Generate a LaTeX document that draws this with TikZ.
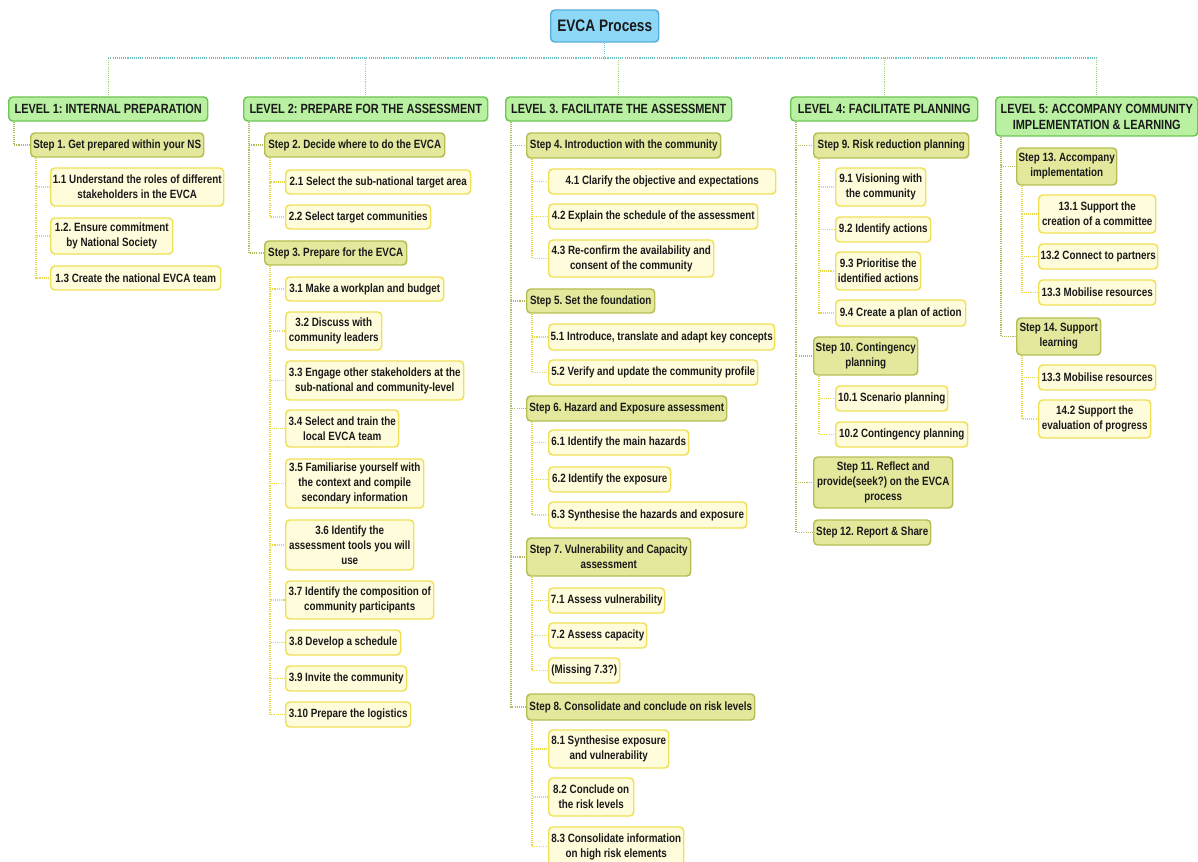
\documentclass[tikz,border=0pt]{standalone}
\usepackage{fontspec}
\setmainfont{Liberation Sans}[FakeStretch=0.82]
\frenchspacing
\definecolor{txt}{HTML}{1A1A1A}
\definecolor{titlefill}{HTML}{8DD7F7}
\definecolor{titledraw}{HTML}{55AEDD}
\definecolor{levelfill}{HTML}{B9F0A2}
\definecolor{leveldraw}{HTML}{6DC552}
\definecolor{stepfill}{HTML}{E3E89C}
\definecolor{stepdraw}{HTML}{B6BD52}
\definecolor{subfill}{HTML}{FFFCDC}
\definecolor{subdraw}{HTML}{EFE055}
\definecolor{buscol}{HTML}{6CC3C3}
\definecolor{dropcol}{HTML}{9CCB7A}
\definecolor{lconncol}{HTML}{B2BA5E}
\definecolor{sconncol}{HTML}{E6D846}
% box from corner (x1,y1) to (x2,y2), pixel-like units; left edge is kept fixed
\newcommand\putbox[7][subbox]{%
  \node[#1, anchor=west, minimum width={(#5-#3)*0.75pt}, minimum height={(#6-#4)*0.75pt}]
    (#2) at (#3,{(#4+#6)/2}) {#7};}
\begin{document}
\begin{tikzpicture}[x=0.75pt,y=-0.75pt,
  base/.style={rounded corners=3pt, line width=1.1pt, inner xsep=1pt, inner ysep=1pt, align=center,
    text=txt, font=\bfseries\fontsize{9}{11.2}\selectfont},
  titlebox/.style={base, fill=titlefill, draw=titledraw, font=\bfseries\fontsize{12.5}{14}\selectfont},
  levelbox/.style={base, fill=levelfill, draw=leveldraw, font=\bfseries\fontsize{10}{12}\selectfont},
  stepbox/.style={base, fill=stepfill, draw=stepdraw},
  subbox/.style={base, fill=subfill, draw=subdraw},
  dots/.style={line width=1pt, dash pattern=on 0.8pt off 0.8pt},
  busline/.style={dots, draw=buscol},
  dropline/.style={dots, draw=dropcol},
  lconn/.style={dots, draw=lconncol},
  sconn/.style={dots, draw=sconncol}
]
\useasboundingbox (0,0) rectangle (1198,862);

% root
\putbox[titlebox]{T}{550}{10}{658}{42}{EVCA Process}

% level headers
\putbox[levelbox]{L1}{8}{97}{207}{121}{LEVEL 1: INTERNAL PREPARATION}
\putbox[levelbox]{L2}{243}{97}{487}{121}{LEVEL 2: PREPARE FOR THE ASSESSMENT}
\putbox[levelbox]{L3}{505}{97}{731}{121}{LEVEL 3. FACILITATE THE ASSESSMENT}
\putbox[levelbox]{L4}{790}{97}{977}{121}{LEVEL 4: FACILITATE PLANNING}
\putbox[levelbox]{L5}{995}{97}{1197}{136}{LEVEL 5: ACCOMPANY COMMUNITY\\IMPLEMENTATION \& LEARNING}

% level 1
\putbox[stepbox]{p1}{30}{133}{203}{157}{Step 1. Get prepared within your NS}
\putbox{q11}{50}{168}{223}{206}{1.1 Understand the roles of different\\stakeholders in the EVCA}
\putbox{q12}{50}{218}{172}{254}{1.2. Ensure commitment\\by National Society}
\putbox{q13}{50}{266}{220}{290}{1.3 Create the national EVCA team}

% level 2
\putbox[stepbox]{p2}{264}{133}{444}{157}{Step 2. Decide where to do the EVCA}
\putbox{q21}{285}{170}{470}{194}{2.1 Select the sub-national target area}
\putbox{q22}{285}{205}{430}{229}{2.2 Select target communities}
\putbox[stepbox]{p3}{264}{241}{406}{265}{Step 3. Prepare for the EVCA}
\putbox{q31}{285}{277}{443}{301}{3.1 Make a workplan and budget}
\putbox{q32}{285}{312}{381}{350}{3.2 Discuss with\\community leaders}
\putbox{q33}{285}{361}{463}{400}{3.3 Engage other stakeholders at the\\sub-national and community-level}
\putbox{q34}{285}{410}{398}{447}{3.4 Select and train the\\local EVCA team}
\putbox{q35}{285}{459}{423}{508}{3.5 Familiarise yourself with\\the context and compile\\secondary information}
\putbox{q36}{285}{520}{413}{570}{3.6 Identify the\\assessment tools you will\\use}
\putbox{q37}{285}{581}{433}{619}{3.7 Identify the composition of\\community participants}
\putbox{q38}{285}{630}{400}{655}{3.8 Develop a schedule}
\putbox{q39}{285}{666}{406}{691}{3.9 Invite the community}
\putbox{q310}{285}{702}{410}{727}{3.10 Prepare the logistics}

% level 3
\putbox[stepbox]{p4}{526}{133}{720}{158}{Step 4. Introduction with the community}
\putbox{q41}{548}{169}{775}{194}{4.1 Clarify the objective and expectations}
\putbox{q42}{548}{204}{757}{229}{4.2 Explain the schedule of the assessment}
\putbox{q43}{548}{240}{713}{277}{4.3 Re-confirm the availability and\\consent of the community}
\putbox[stepbox]{p5}{526}{289}{654}{313}{Step 5. Set the foundation}
\putbox{q51}{548}{324}{774}{350}{5.1 Introduce, translate and adapt key concepts}
\putbox{q52}{548}{360}{757}{385}{5.2 Verify and update the community profile}
\putbox[stepbox]{p6}{526}{396}{726}{421}{Step 6. Hazard and Exposure assessment}
\putbox{q61}{548}{430}{688}{455}{6.1 Identify the main hazards}
\putbox{q62}{548}{467}{670}{492}{6.2 Identify the exposure}
\putbox{q63}{548}{502}{746}{528}{6.3 Synthesise the hazards and exposure}
\putbox[stepbox]{p7}{526}{538}{690}{576}{Step 7. Vulnerability and Capacity\\assessment}
\putbox{q71}{548}{588}{664}{613}{7.1 Assess vulnerability}
\putbox{q72}{548}{623}{646}{648}{7.2 Assess capacity}
\putbox{q73}{548}{658}{619}{683}{(Missing 7.3?)}
\putbox[stepbox]{p8}{526}{694}{754}{720}{Step 8. Consolidate and conclude on risk levels}
\putbox{q81}{548}{730}{668}{768}{8.1 Synthesise exposure\\and vulnerability}
\putbox{q82}{548}{778}{633}{816}{8.2 Conclude on\\the risk levels}
\putbox{q83}{548}{827}{683}{866}{8.3 Consolidate information\\on high risk elements}

% level 4
\putbox[stepbox]{p9}{813}{133}{968}{158}{Step 9. Risk reduction planning}
\putbox{q91}{835}{168}{925}{206}{9.1 Visioning with\\the community}
\putbox{q92}{835}{217}{930}{242}{9.2 Identify actions}
\putbox{q93}{835}{252}{920}{290}{9.3 Prioritise the\\identified actions}
\putbox{q94}{835}{300}{965}{326}{9.4 Create a plan of action}
\putbox[stepbox]{p10}{813}{337}{917}{375}{Step 10. Contingency\\planning}
\putbox{q101}{835}{386}{947}{411}{10.1 Scenario planning}
\putbox{q102}{835}{422}{967}{447}{10.2 Contingency planning}
\putbox[stepbox]{p11}{813}{457}{952}{508}{Step 11. Reflect and\\provide(seek?) on the EVCA\\process}
\putbox[stepbox]{p12}{813}{520}{930}{545}{Step 12. Report \& Share}

% level 5
\putbox[stepbox]{p13}{1016}{148}{1116}{185}{Step 13. Accompany\\implementation}
\putbox{q131}{1038}{195}{1155}{233}{13.1 Support the\\creation of a committee}
\putbox{q132}{1038}{244}{1157}{269}{13.2 Connect to partners}
\putbox{q133}{1038}{280}{1155}{305}{13.3 Mobilise resources}
\putbox[stepbox]{p14}{1016}{318}{1100}{355}{Step 14. Support\\learning}
\putbox{q141}{1038}{365}{1155}{390}{13.3 Mobilise resources}
\putbox{q142}{1038}{400}{1150}{438}{14.2 Support the\\evaluation of progress}

% root to levels
\coordinate (bus) at (604,58);
\draw[busline] (T.south) -- (T.south |- bus);
\draw[busline] (L1.north |- bus) -- (L5.north |- bus);
\foreach \l in {L1,L2,L3,L4,L5}
  \draw[dropline] (\l.north |- bus) -- (\l.north);

% levels to steps
\foreach \l/\s in {L1/p1, L2/p2, L2/p3, L3/p4, L3/p5, L3/p6, L3/p7, L3/p8,
                   L4/p9, L4/p10, L4/p11, L4/p12, L5/p13, L5/p14}
  \draw[lconn] ([xshift=4.5pt]\l.south west) |- (\s.west);

% steps to sub-steps
\foreach \s/\c in {p1/q11, p1/q12, p1/q13, p2/q21, p2/q22,
                   p3/q31, p3/q32, p3/q33, p3/q34, p3/q35, p3/q36, p3/q37, p3/q38, p3/q39, p3/q310,
                   p4/q41, p4/q42, p4/q43, p5/q51, p5/q52, p6/q61, p6/q62, p6/q63,
                   p7/q71, p7/q72, p7/q73, p8/q81, p8/q82, p8/q83,
                   p9/q91, p9/q92, p9/q93, p9/q94, p10/q101, p10/q102,
                   p13/q131, p13/q132, p13/q133, p14/q141, p14/q142}
  \draw[sconn] ([xshift=4.5pt]\s.south west) |- (\c.west);
\end{tikzpicture}
\end{document}
